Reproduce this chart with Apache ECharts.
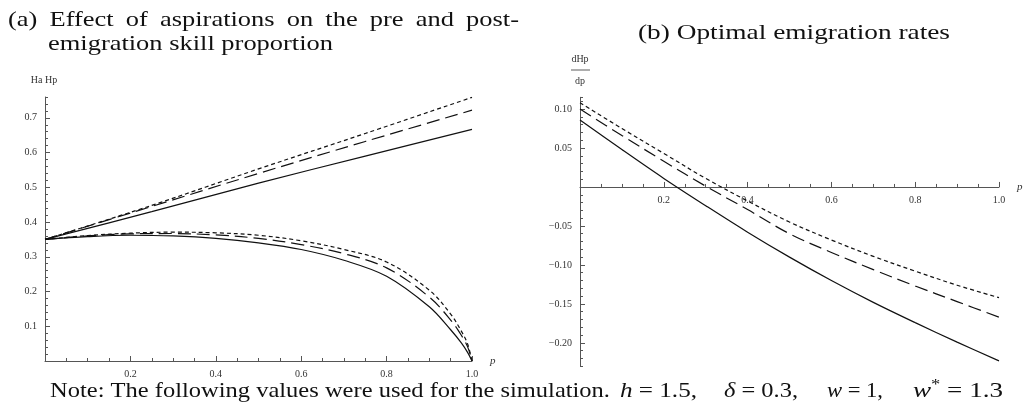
<!DOCTYPE html>
<html>
<head>
<meta charset="utf-8">
<script src="https://cdn.jsdelivr.net/npm/echarts@6/dist/echarts.min.js"></script>
<style>
  html, body { margin: 0; padding: 0; background: #fff; }
  #chart { width: 1024px; height: 406px; }
</style>
</head>
<body>
<div id="chart"></div>
<script>
// panel (a): upper lines (post-emigration skill share)
const pUpper = [0, 0.25, 0.5, 0.75, 1.0]
const upSolid = [0.35, 0.43, 0.512, 0.59, 0.667]
const upLong = [0.35, 0.445, 0.54, 0.632, 0.722]
const upShort = [0.35, 0.448, 0.553, 0.655, 0.759]

// panel (a): lower curves (pre-emigration skill share)
const pLower = [0, 0.1, 0.2, 0.3, 0.4, 0.5, 0.6, 0.7, 0.8, 0.9, 0.95, 0.975, 0.99, 1.0]
const lowSolid = [0.35, 0.358, 0.362, 0.36, 0.353, 0.34, 0.321, 0.29, 0.244, 0.156, 0.09, 0.052, 0.024, 0]
const lowLong = [0.35, 0.36, 0.366, 0.367, 0.363, 0.353, 0.335, 0.309, 0.268, 0.184, 0.118, 0.074, 0.04, 0]
const lowShort = [0.35, 0.361, 0.368, 0.371, 0.369, 0.362, 0.346, 0.321, 0.285, 0.204, 0.135, 0.086, 0.048, 0]

// panel (b): dHp/dp
const pRate = [0, 0.1, 0.2, 0.3, 0.4, 0.5, 0.6, 0.7, 0.8, 0.9, 1.0]
const rateSolid = [0.086, 0.048, 0.011, -0.024, -0.058, -0.09, -0.12, -0.148, -0.174, -0.199, -0.223]
const rateLong = [0.1, 0.066, 0.033, 0.001, -0.029, -0.06, -0.084, -0.106, -0.127, -0.147, -0.167]
const rateShort = [0.108, 0.075, 0.043, 0.011, -0.018, -0.045, -0.068, -0.089, -0.108, -0.126, -0.142]

// tick labels
const pTicks = [0, 0.2, 0.4, 0.6, 0.8, 1.0]
const pLabels = [0.2, 0.4, 0.6, 0.8, 1.0]
const hTicks = [0, 0.1, 0.2, 0.3, 0.4, 0.5, 0.6, 0.7]
const hLabels = [0.1, 0.2, 0.3, 0.4, 0.5, 0.6, 0.7]
const rTicks = [-0.2, -0.15, -0.1, -0.05, 0, 0.05, 0.1]
const rLabels = [-0.2, -0.15, -0.1, -0.05, 0.05, 0.1]

const serif = 'Liberation Serif'
const ink = '#111'
const axisCol = '#555'
const bigFont = '22px "Liberation Serif"'
const bigItalic = 'italic 22px "Liberation Serif"'

// measure text so the Computer Modern-like widths can be matched
const ctx = document.createElement('canvas').getContext('2d')
function textWidth(str, font) {
    ctx.font = font
    return ctx.measureText(str).width
}

function pairs(xs, ys) {
    return xs.map((x, i) => [x, ys[i]])
}

// main axis: line, long ticks, labels
function mainAxis(extra, ticks, labels, fmt) {
    return Object.assign({
        type: 'value',
        splitLine: { show: false },
        axisLine: { show: true, onZero: false, lineStyle: { color: axisCol, width: 1 } },
        axisTick: { show: true, inside: true, length: 5, customValues: ticks, lineStyle: { color: axisCol } },
        axisLabel: { customValues: labels, formatter: fmt, fontFamily: serif, fontSize: 10, color: '#333' }
    }, extra)
}

// second axis on the same line, only the short ticks
function minorAxis(extra) {
    return Object.assign({
        type: 'value',
        splitLine: { show: false },
        axisLine: { show: false, onZero: false },
        axisTick: { show: true, inside: true, length: 3, lineStyle: { color: axisCol } },
        axisLabel: { show: false }
    }, extra)
}

const fmt1 = v => v.toFixed(1)
const fmt2 = v => v.toFixed(2).replace('-', '\u2212')

const solid = { color: ink, width: 1.2, type: 'solid' }
const longDash = { color: ink, width: 1.2, type: [13, 6] }
const shortDash = { color: ink, width: 1.2, type: [4, 3] }

function line(data, style, xi, yi) {
    return {
        type: 'line', data: data, xAxisIndex: xi, yAxisIndex: yi,
        showSymbol: false, symbol: 'none', smooth: 0.35, lineStyle: style
    }
}

// text stretched to span x0..x1
function fitText(str, x0, x1, y) {
    return {
        type: 'text', x: x0, y: y, scaleX: (x1 - x0) / textWidth(str, bigFont),
        style: { text: str, font: bigFont, fill: ink, verticalAlign: 'middle' }
    }
}

// justified line: words spread between x0 and x1, each stretched by s
function justify(words, x0, x1, y, s) {
    const widths = words.map(w => textWidth(w, bigFont) * s)
    const gap = (x1 - x0 - widths.reduce((a, b) => a + b, 0)) / (words.length - 1)
    let x = x0
    return words.map((w, i) => {
        const el = { type: 'text', x: x, y: y, scaleX: s, style: { text: w, font: bigFont, fill: ink, verticalAlign: 'middle' } }
        x += widths[i] + gap
        return el
    })
}

// formula pieces: [text, kind] with kind '' roman, 'i' italic, 's' superscript
function formula(parts, x0, x1, y) {
    let x = 0
    const children = parts.map(([t, kind]) => {
        const font = kind === 'i' ? bigItalic : kind === 's' ? '15px "Liberation Serif"' : bigFont
        const el = { type: 'text', x: x, y: kind === 's' ? -6 : 0, style: { text: t, font: font, fill: ink, verticalAlign: 'middle' } }
        x += textWidth(t, font)
        return el
    })
    return { type: 'group', x: x0, y: y, scaleX: (x1 - x0) / x, children: children }
}

const line2 = 'emigration skill proportion'
const stretch = (333 - 48) / textWidth(line2, bigFont)

const nameStyle = { fontFamily: serif, fontStyle: 'italic', fontSize: 11, color: '#333' }
// panel (b) x axis sits at y = 0: shift it up from the grid bottom
const zeroShift = -269 * 0.23 / 0.345

const myChart = echarts.init(document.getElementById('chart'))
const option = {
    animation: false,
    backgroundColor: '#fff',
    grid: [
        { left: 45, top: 97, width: 427, height: 264, outerBoundsMode: 'none' },
        { left: 580, top: 97.3, width: 419, height: 269, outerBoundsMode: 'none' }
    ],
    xAxis: [
        mainAxis({ gridIndex: 0, min: 0, max: 1, position: 'bottom', name: 'p', nameGap: 18, nameTextStyle: nameStyle }, pTicks, pLabels, fmt1),
        minorAxis({ gridIndex: 0, min: 0, max: 1, interval: 0.05, position: 'bottom' }),
        mainAxis({ gridIndex: 1, min: 0, max: 1, position: 'bottom', offset: zeroShift, name: 'p', nameGap: 18, nameTextStyle: nameStyle }, pTicks, pLabels, fmt1),
        minorAxis({ gridIndex: 1, min: 0, max: 1, interval: 0.05, position: 'bottom', offset: zeroShift })
    ],
    yAxis: [
        mainAxis({ gridIndex: 0, min: 0, max: 0.76, position: 'left' }, hTicks, hLabels, fmt1),
        minorAxis({ gridIndex: 0, min: 0, max: 0.76, interval: 0.02, position: 'left' }),
        mainAxis({ gridIndex: 1, min: -0.23, max: 0.115, position: 'left' }, rTicks, rLabels, fmt2),
        minorAxis({ gridIndex: 1, min: -0.23, max: 0.115, interval: 0.01, position: 'left' })
    ],
    series: [
        line(pairs(pUpper, upSolid), solid, 0, 0),
        line(pairs(pUpper, upLong), longDash, 0, 0),
        line(pairs(pUpper, upShort), shortDash, 0, 0),
        line(pairs(pLower, lowSolid), solid, 0, 0),
        line(pairs(pLower, lowLong), longDash, 0, 0),
        line(pairs(pLower, lowShort), shortDash, 0, 0),
        line(pairs(pRate, rateSolid), solid, 2, 2),
        line(pairs(pRate, rateLong), longDash, 2, 2),
        line(pairs(pRate, rateShort), shortDash, 2, 2)
    ],
    graphic: [
        ...justify(['(a)', 'Effect', 'of', 'aspirations', 'on', 'the', 'pre', 'and', 'post-'], 8, 519, 20, stretch),
        fitText(line2, 48, 333, 44),
        fitText('(b) Optimal emigration rates', 638, 950, 33),
        { type: 'text', x: 44, y: 80, style: { text: 'Ha Hp', font: '10px "Liberation Serif"', fill: '#333', align: 'center', verticalAlign: 'middle' } },
        { type: 'text', x: 580, y: 59, style: { text: 'dHp', font: '10px "Liberation Serif"', fill: '#333', align: 'center', verticalAlign: 'middle' } },
        { type: 'line', shape: { x1: 571, y1: 70, x2: 590, y2: 70 }, style: { stroke: '#333', lineWidth: 0.8 } },
        { type: 'text', x: 580, y: 81, style: { text: 'dp', font: '10px "Liberation Serif"', fill: '#333', align: 'center', verticalAlign: 'middle' } },
        fitText('Note: The following values were used for the simulation.', 50, 610, 391),
        formula([['h', 'i'], [' = 1.5,', '']], 620, 697, 391),
        formula([['δ', 'i'], [' = 0.3,', '']], 724, 798, 391),
        formula([['w', 'i'], [' = 1,', '']], 827, 883, 391),
        formula([['w', 'i'], ['*', 's'], [' = 1.3', '']], 913, 1003, 391)
    ]
}

option && myChart.setOption(option)
</script>
</body>
</html>
